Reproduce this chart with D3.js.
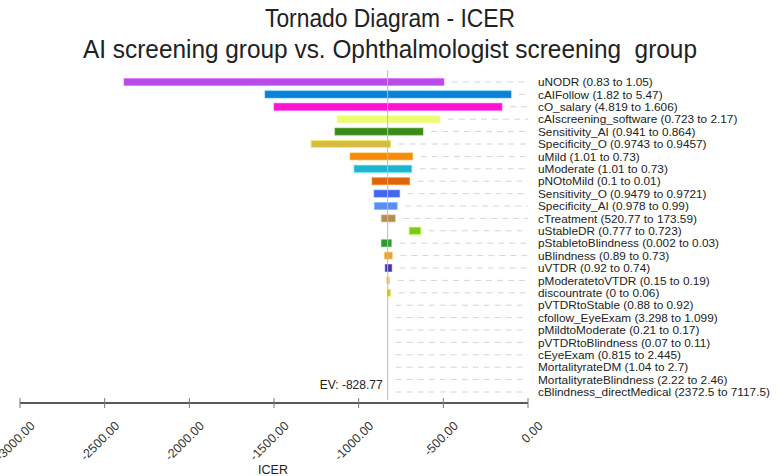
<!DOCTYPE html>
<html><head><meta charset="utf-8">
<script src="https://cdn.jsdelivr.net/npm/d3@7"></script>
<style>body{margin:0;background:#fff}svg{font-family:"Liberation Sans",Arial,sans-serif}</style>
</head><body><svg id="c" width="777" height="476"></svg>
<script>
const params = ["uNODR","cAIFollow","cO_salary","cAIscreening_software","Sensitivity_AI","Specificity_O","uMild","uModerate","pNOtoMild","Sensitivity_O","Specificity_AI","cTreatment","uStableDR","pStabletoBlindness","uBlindness","uVTDR","pModeratetoVTDR","discountrate","pVTDRtoStable","cfollow_EyeExam","pMildtoModerate","pVTDRtoBlindness","cEyeExam","MortalityrateDM","MortalityrateBlindness","cBlindness_directMedical"];
const inputLow = ["0.83","1.82","4.819","0.723","0.941","0.9743","1.01","1.01","0.1","0.9479","0.978","520.77","0.777","0.002","0.89","0.92","0.15","0","0.88","3.298","0.21","0.07","0.815","1.04","2.22","2372.5"];
const inputHigh = ["1.05","5.47","1.606","2.17","0.864","0.9457","0.73","0.73","0.01","0.9721","0.99","173.59","0.723","0.03","0.73","0.74","0.19","0.06","0.92","1.099","0.17","0.11","2.445","2.7","2.46","7117.5"];
const icerMin = [-2386,-1553,-1500,-1128,-1140,-1281,-1051,-1027,-921,-909,-907,-866,-701,-866,-848,-843,-837,-833,-829.2,-829.1,-829.0,-829.0,-828.9,-828.9,-828.8,-828.8];
const icerMax = [-496,-100,-154,-520,-620,-811,-681,-687,-699,-758,-772,-784,-634,-807,-801,-805,-815,-811,-828.4,-828.5,-828.6,-828.6,-828.7,-828.7,-828.8,-828.8];
const colors = ["#b94ce6","#0a80d8","#fc14d2","#ecfc72","#3d8a1c","#d6bd42","#f58a0c","#1fb4cc","#df640c","#4466ee","#5b8df2","#b08f52","#7acc12","#2c9a32","#e2a244","#4232b0","#f8c292","#cbc244","#999","#999","#999","#999","#999","#999","#999","#999"];
const EV = -828.77;
const xTicks = [-3000,-2500,-2000,-1500,-1000,-500,0];

const svg = d3.select("#c");
const x = d3.scaleLinear().domain([-3000,0]).range([20,528]);
const y = d3.scalePoint().domain(params).range([82,392]);
const bh = 7;

svg.append("text").attr("x",390).attr("y",27).attr("text-anchor","middle")
  .attr("font-size",25).attr("fill","#222")
  .attr("textLength",250).attr("lengthAdjust","spacingAndGlyphs")
  .text("Tornado Diagram - ICER");
svg.append("text").attr("x",390).attr("y",58).attr("text-anchor","middle")
  .attr("font-size",25).attr("fill","#222").style("white-space","pre")
  .attr("textLength",614).attr("lengthAdjust","spacingAndGlyphs")
  .text("AI screening group vs. Ophthalmologist screening  group");

const rows = params.map((p,i)=>({p,i,lo:icerMin[i],hi:icerMax[i],c:colors[i],label:`${p} (${inputLow[i]} to ${inputHigh[i]})`}));

// dashed guide lines
svg.append("g").selectAll("line").data(rows).join("line")
  .attr("x1",d=>Math.max(x(d.hi),x(EV))+8).attr("x2",x(0))
  .attr("y1",d=>y(d.p)).attr("y2",d=>y(d.p))
  .attr("stroke","#d4d4d4").attr("stroke-dasharray","6,5");

// bars
svg.append("g").selectAll("rect").data(rows.filter(d=>x(d.hi)-x(d.lo)>1)).join("rect")
  .attr("x",d=>x(d.lo)).attr("width",d=>x(d.hi)-x(d.lo))
  .attr("y",d=>y(d.p)-bh/2).attr("height",bh)
  .attr("fill",d=>d.c).attr("stroke",d=>d3.color(d.c).brighter(0.7).formatHex())
  .attr("stroke-opacity",0.6).attr("stroke-width",1);

// EV line
svg.append("line").attr("x1",x(EV)).attr("x2",x(EV)).attr("y1",70).attr("y2",400)
  .attr("stroke","#bbb").attr("stroke-width",1);
svg.append("text").attr("x",x(EV)-5).attr("y",389).attr("text-anchor","end")
  .attr("font-size",12).attr("fill","#222").text("EV: -828.77");

// labels
svg.append("g").selectAll("text").data(rows).join("text")
  .attr("x",538).attr("y",d=>y(d.p)).attr("dy","0.35em")
  .attr("font-size",11.8).attr("fill","#222").text(d=>d.label);

// axis
const ax = svg.append("g").attr("transform","translate(0,403)");
ax.append("line").attr("x1",x(-3000)).attr("x2",x(0)).attr("stroke","#222").attr("stroke-width",1.3);
ax.selectAll("line.t").data(xTicks).join("line").attr("class","t")
  .attr("x1",d=>x(d)).attr("x2",d=>x(d)).attr("y1",-5).attr("y2",5).attr("stroke","#777");
ax.selectAll("text").data(xTicks).join("text")
  .attr("transform",d=>`translate(${x(d)+9},${17}) rotate(-45)`)
  .attr("text-anchor","end").attr("dy","0.75em")
  .attr("font-size",12.5).attr("fill","#333").text(d=>d3.format(".2f")(d).replace("−","-"));
svg.append("text").attr("x",273).attr("y",474).attr("text-anchor","middle")
  .attr("font-size",12.5).attr("fill","#222").text("ICER");
</script></body></html>
